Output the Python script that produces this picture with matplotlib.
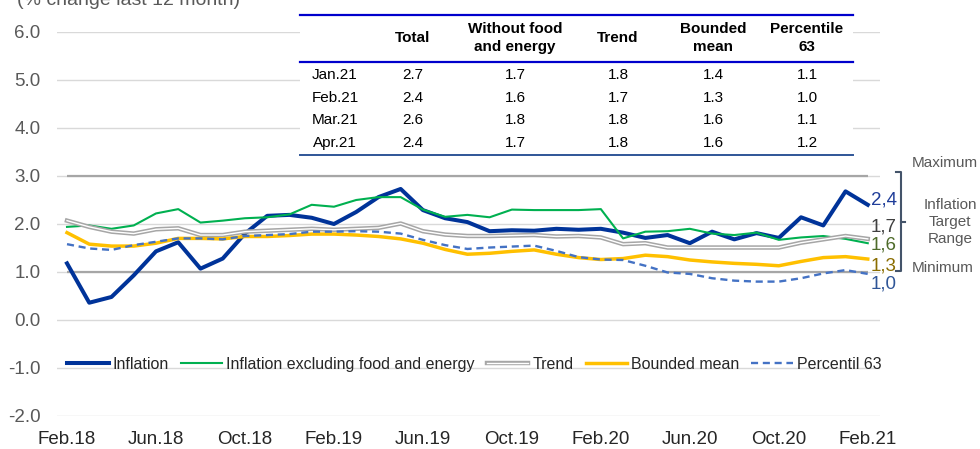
import matplotlib
matplotlib.use('Agg')
import matplotlib.pyplot as plt
import matplotlib.patheffects as pe
from matplotlib.lines import Line2D
from matplotlib.patches import Rectangle

plt.rcParams['font.family'] = ['Liberation Sans', 'DejaVu Sans']

# monthly series, Feb.18 .. Feb.21 (% change last 12 months)
inflation = [1.18, 0.36, 0.48, 0.93, 1.43, 1.62, 1.07, 1.28, 1.80, 2.17, 2.19, 2.13,
             2.00, 2.25, 2.56, 2.73, 2.29, 2.12, 2.04, 1.85, 1.87, 1.86, 1.90, 1.88,
             1.90, 1.82, 1.71, 1.77, 1.60, 1.84, 1.68, 1.81, 1.71, 2.14, 1.97, 2.68,
             2.40]
core = [1.94, 1.97, 1.90, 1.97, 2.22, 2.31, 2.03, 2.07, 2.12, 2.14, 2.20, 2.40,
        2.36, 2.50, 2.56, 2.56, 2.30, 2.15, 2.19, 2.14, 2.30, 2.29, 2.29, 2.29,
        2.31, 1.70, 1.84, 1.85, 1.90, 1.80, 1.77, 1.82, 1.67, 1.72, 1.75, 1.69,
        1.60]
trend = [2.07, 1.94, 1.84, 1.80, 1.89, 1.91, 1.77, 1.77, 1.84, 1.86, 1.88, 1.90,
         1.88, 1.90, 1.92, 2.01, 1.85, 1.78, 1.75, 1.75, 1.76, 1.77, 1.74, 1.75,
         1.72, 1.58, 1.60, 1.51, 1.51, 1.51, 1.51, 1.51, 1.51, 1.61, 1.68, 1.75,
         1.69]
bounded_mean = [1.82, 1.58, 1.54, 1.54, 1.60, 1.70, 1.70, 1.69, 1.74, 1.74, 1.76, 1.79,
                1.79, 1.77, 1.74, 1.69, 1.60, 1.47, 1.37, 1.39, 1.43, 1.46, 1.37, 1.30,
                1.26, 1.28, 1.35, 1.32, 1.25, 1.21, 1.18, 1.16, 1.13, 1.22, 1.30, 1.32,
                1.27]
percentile63 = [1.58, 1.49, 1.46, 1.56, 1.63, 1.70, 1.70, 1.68, 1.75, 1.77, 1.79, 1.84,
                1.84, 1.85, 1.84, 1.80, 1.67, 1.56, 1.48, 1.51, 1.53, 1.55, 1.44, 1.31,
                1.26, 1.25, 1.13, 0.99, 0.96, 0.87, 0.82, 0.80, 0.80, 0.87, 0.97, 1.04,
                0.96]
target_max = 3.0
target_min = 1.0

tick_labels = ['Feb.18', 'Jun.18', 'Oct.18', 'Feb.19', 'Jun.19', 'Oct.19',
               'Feb.20', 'Jun.20', 'Oct.20', 'Feb.21']

# summary table
table_cols = ['Total', 'Without food\nand energy', 'Trend', 'Bounded\nmean', 'Percentile\n63']
table_rows = ['Jan.21', 'Feb.21', 'Mar.21', 'Apr.21']
table_vals = [['2.7', '1.7', '1.8', '1.4', '1.1'],
              ['2.4', '1.6', '1.7', '1.3', '1.0'],
              ['2.6', '1.8', '1.8', '1.6', '1.1'],
              ['2.4', '1.7', '1.8', '1.6', '1.2']]

W, H = 980, 449


def fx(x):
    return x / W


def fy(y):
    return 1 - y / H


fig = plt.figure(figsize=(9.8, 4.49), dpi=100)
ax = fig.add_axes([fx(57), fy(416), (880 - 57) / W, (416 - 32) / H])

x = list(range(len(inflation)))

ax.hlines([target_max, target_min], x[0], x[-1], color='#a6a6a6', lw=1.6, zorder=1)

ax.plot(x, inflation, color='#003399', lw=2.9, label='Inflation', zorder=3)
ax.plot(x, core, color='#00b050', lw=1.5, label='Inflation excluding food and energy', zorder=3)
ax.plot(x, trend, color='white', lw=1.0, label='Trend', zorder=3,
        path_effects=[pe.Stroke(linewidth=3.2, foreground='#a6a6a6'), pe.Normal()])
ax.plot(x, bounded_mean, color='#ffc000', lw=2.5, label='Bounded mean', zorder=3)
ax.plot(x, percentile63, color='#4472c4', lw=1.7, ls=(0, (3, 2)), label='Percentil 63', zorder=3)

ax.set_xlim(-0.45, len(x) - 0.45)
ax.set_ylim(-2, 6)
ax.set_yticks(range(-2, 7))
ax.set_yticklabels([f'{v:.1f}' for v in range(-2, 7)])
ax.set_xticks(x[::4])
ax.set_xticklabels(tick_labels)
ax.grid(axis='y', color='#d9d9d9', lw=1.0)
ax.set_axisbelow(True)
for s in ax.spines.values():
    s.set_visible(False)
ax.tick_params(axis='y', length=0, pad=12, labelsize=13.5, labelcolor='#595959')
ax.tick_params(axis='x', length=0, pad=11, labelsize=13.5, labelcolor='#262626')

ax.legend(loc='center', bbox_to_anchor=(0.507, 0.135), ncol=5, frameon=False,
          fontsize=11.5, handlelength=2.6, handletextpad=0.25, columnspacing=0.75,
          labelcolor='#262626')

# end-of-series labels
end_labels = [(inflation[-1], 200, '#1f3d99'),
              (trend[-1], 226.5, '#404040'),
              (core[-1], 245, '#4e6b2a'),
              (bounded_mean[-1], 266, '#8a6d00'),
              (percentile63[-1], 284, '#2f5597')]
for val, ypx, col in end_labels:
    fig.text(fx(871), fy(ypx), f'{val:.1f}'.replace('.', ','), color=col,
             fontsize=13.5, ha='left', va='center')

# target range bracket
bcol = '#44546a'
fig.add_artist(Line2D([fx(896), fx(901), fx(901), fx(896)],
                      [fy(172), fy(172), fy(271), fy(271)], color=bcol, lw=1.5))
fig.add_artist(Line2D([fx(901), fx(905)], [fy(221.5), fy(221.5)], color=bcol, lw=1.5))
fig.text(fx(912), fy(163), 'Maximum', color='#595959', fontsize=11, ha='left', va='center')
fig.text(fx(950), fy(222), 'Inflation\nTarget\nRange', color='#595959', fontsize=11,
         ha='center', va='center', linespacing=1.3)
fig.text(fx(912), fy(268), 'Minimum', color='#595959', fontsize=11, ha='left', va='center')

# title (cut at top edge)
fig.text(fx(17), fy(5), '(% change last 12 month)', color='#595959', fontsize=14,
         ha='left', va='baseline')

# table over the upper part of the plot
fig.add_artist(Rectangle((fx(300), fy(156)), (853 - 300) / W, (156 - 14) / H,
                         transform=fig.transFigure, facecolor='white', edgecolor='none',
                         zorder=4))
for ypx, col, lw in [(15, '#0000cc', 1.6), (61.7, '#0000cc', 1.6), (155, '#2f5597', 1.4)]:
    fig.add_artist(Line2D([fx(300), fx(853)], [fy(ypx), fy(ypx)], color=col, lw=lw, zorder=5))

col_x = [413, 515, 618, 713, 807]
for cx, head in zip(col_x, table_cols):
    fig.text(fx(cx), fy(38), head, fontsize=11, fontweight='bold', color='black',
             ha='center', va='center', linespacing=1.3, zorder=6)
row_y = [75, 97.7, 120.4, 143]
for ry, rlab, vals in zip(row_y, table_rows, table_vals):
    fig.text(fx(335), fy(ry), rlab, fontsize=11, color='black', ha='center', va='center', zorder=6)
    for cx, v in zip(col_x, vals):
        fig.text(fx(cx), fy(ry), v, fontsize=11, color='black', ha='center', va='center', zorder=6)

fig.savefig('out.png', dpi=100)
